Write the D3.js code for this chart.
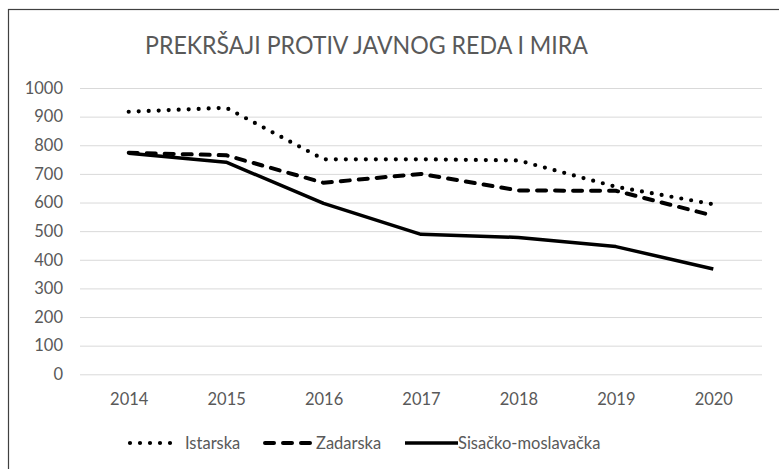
<!DOCTYPE html>
<html>
<head>
<meta charset="utf-8">
<script src="https://cdn.jsdelivr.net/npm/d3@7"></script>
<style>
  html, body { margin: 0; padding: 0; background: #fff; }
  svg { display: block; }
</style>
</head>
<body>
<svg id="chart" width="779" height="469"></svg>
<script>
const title = "PREKRŠAJI PROTIV JAVNOG REDA I MIRA";
const years = ["2014", "2015", "2016", "2017", "2018", "2019", "2020"];
const yTicks = [0, 100, 200, 300, 400, 500, 600, 700, 800, 900, 1000];
const seriesNames = ["Istarska", "Zadarska", "Sisačko-moslavačka"];
const istarska = [917, 931, 751, 751, 747, 655, 594];
const zadarska = [774, 765, 669, 700, 642, 641, 554];
const sisacko = [772, 741, 597, 489, 478, 446, 368];

const seriesValues = [istarska, zadarska, sisacko];
const styles = [
  { dash: "0,10", cap: "round", width: 4.2 },
  { dash: "9,9", cap: "round", width: 4 },
  { dash: null, cap: "butt", width: 3.5 }
];

const font = "Lato, 'Open Sans', sans-serif";
const textColor = "#595959";
const svg = d3.select("#chart");

// outer frame (extends past the picture on right/bottom)
svg.append("rect").attr("x", 8.5).attr("y", 9.5).attr("width", 800).attr("height", 500)
  .attr("fill", "none").attr("stroke", "#404040").attr("stroke-width", 1.2);

const plot = { left: 80, right: 762, top: 88, bottom: 374.3 };
const x = d3.scalePoint().domain(years).range([plot.left, plot.right]).padding(0.5);
const y = d3.scaleLinear().domain([0, 1000]).range([plot.bottom, plot.top]);

// title
svg.append("text").attr("x", 366.5).attr("y", 53.5).attr("text-anchor", "middle")
  .attr("font-family", font).attr("font-size", 25.5).attr("fill", textColor)
  .attr("textLength", 443).attr("lengthAdjust", "spacingAndGlyphs")
  .text(title);

// gridlines
const yAxis = d3.axisLeft(y).tickValues(yTicks).tickFormat(d3.format("d"))
  .tickSize(-(plot.right - plot.left)).tickPadding(17);
const gy = svg.append("g").attr("transform", `translate(${plot.left},0)`).call(yAxis);
gy.select(".domain").remove();
gy.selectAll(".tick line").attr("stroke", "#d9d9d9").attr("stroke-width", 1);
gy.selectAll(".tick text").attr("font-family", font).attr("font-size", 16.5).attr("fill", textColor);

const xAxis = d3.axisBottom(x).tickSize(0).tickPadding(19);
const gx = svg.append("g").attr("transform", `translate(0,${plot.bottom})`).call(xAxis);
gx.select(".domain").remove();
gx.selectAll(".tick text").attr("font-family", font).attr("font-size", 16.5).attr("fill", textColor);

// lines
const line = d3.line().x((d, i) => x(years[i])).y(d => y(d));
seriesValues.forEach((vals, k) => {
  const s = styles[k];
  const p = svg.append("path").datum(vals).attr("d", line)
    .attr("fill", "none").attr("stroke", "#000").attr("stroke-width", s.width)
    .attr("stroke-linecap", s.cap).attr("stroke-linejoin", "round");
  if (s.dash) p.attr("stroke-dasharray", s.dash);
});

// legend
const legendY = 443;
const legendItems = [
  { x1: 130, x2: 180, tx: 185 },
  { x1: 265, x2: 311, tx: 316 },
  { x1: 405, x2: 458, tx: 458 }
];
legendItems.forEach((it, k) => {
  const s = styles[k];
  const l = svg.append("line").attr("x1", it.x1).attr("x2", it.x2).attr("y1", legendY).attr("y2", legendY)
    .attr("stroke", "#000").attr("stroke-width", s.width).attr("stroke-linecap", s.cap);
  if (s.dash) l.attr("stroke-dasharray", s.dash);
  svg.append("text").attr("x", it.tx).attr("y", legendY).attr("dy", "0.35em")
    .attr("font-family", font).attr("font-size", 16.5).attr("fill", textColor)
    .text(seriesNames[k]);
});
</script>
</body>
</html>
